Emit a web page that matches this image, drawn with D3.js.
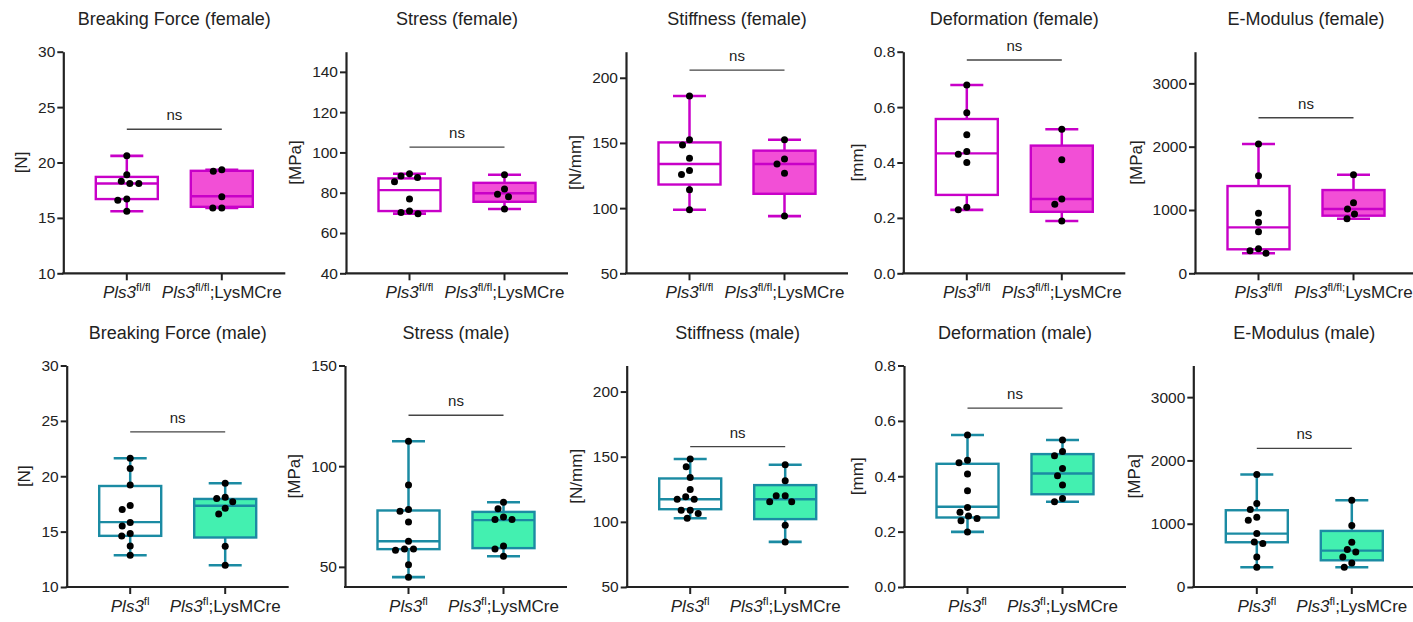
<!DOCTYPE html>
<html><head><meta charset="utf-8">
<script src="https://cdn.jsdelivr.net/npm/d3@7"></script>
<style>
html,body{margin:0;padding:0;background:#fff;}
svg{display:block;font-family:"Liberation Sans",Arial,Helvetica,sans-serif;}
</style></head>
<body><svg id="c" width="1413" height="622"></svg>
<script>
// ---------------- DATA ----------------
const titles = ["Breaking Force","Stress","Stiffness","Deformation","E-Modulus"];
const units = ["[N]","[MPa]","[N/mm]","[mm]","[MPa]"];
const sexes = ["female","male"];
const femaleLabels = [["Pls3","fl/fl",""],["Pls3","fl/fl",";LysMCre"]];
const femaleLabelsEmod = [["Pls3","fl/fl",""],["Pls3","fl/fl;","LysMCre"]];
const maleLabels = [["Pls3","fl",""],["Pls3","fl",";LysMCre"]];

const yDomainsFemale = [[10,30],[40,150],[50,220],[0,0.8],[0,3500]];
const yDomainsMale   = [[10,30],[40,150],[50,220],[0,0.8],[0,3500]];
const yTicksFemale = [[10,15,20,25,30],[40,60,80,100,120,140],[50,100,150,200],[0,0.2,0.4,0.6,0.8],[0,1000,2000,3000]];
const yTicksMale   = [[10,15,20,25,30],[50,100,150],[50,100,150,200],[0,0.2,0.4,0.6,0.8],[0,1000,2000,3000]];
const sigFemale = [23, 102.6, 205.8, 0.77, 2457];
const sigMale   = [24, 125.3, 157.7, 0.646, 2189];

// female
const bfFemaleCtrl = [20.6, 18.9, 18.3, 18.1, 18.1, 16.7, 16.6, 15.6];
const bfFemaleCre  = [19.35, 19.2, 16.9, 15.9, 15.9];
const stressFemaleCtrl = [89.4, 88.3, 87.6, 85.4, 76.9, 70.9, 70.2, 69.6];
const stressFemaleCre  = [88.9, 81.8, 79.3, 78.0, 71.9];
const stiffFemaleCtrl = [186, 152.4, 148.4, 138.2, 128.8, 125.7, 114.1, 98.8];
const stiffFemaleCre  = [152.4, 137.7, 133.9, 126.7, 93.9];
const defFemaleCtrl = [0.68, 0.58, 0.50, 0.44, 0.43, 0.40, 0.238, 0.229];
const defFemaleCre  = [0.52, 0.41, 0.268, 0.249, 0.189];
const emodFemaleCtrl = [2042, 1541, 947, 805, 657, 388, 357, 316];
const emodFemaleCre  = [1557, 1115, 1015, 936, 862];
// box summaries [min, q1, median, q3, max]
const bfFemaleCtrlBox = [15.6, 16.7, 18.1, 18.7, 20.6];
const bfFemaleCreBox  = [15.9, 16.0, 16.95, 19.25, 19.35];
const stressFemaleCtrlBox = [69.6, 70.9, 81.3, 87.1, 89.4];
const stressFemaleCreBox  = [71.9, 75.5, 79.7, 84.9, 88.9];
const stiffFemaleCtrlBox = [98.8, 118.1, 133.9, 150.4, 186];
const stiffFemaleCreBox  = [93.9, 111, 133.9, 144.1, 152.4];
const defFemaleCtrlBox = [0.229, 0.283, 0.433, 0.557, 0.68];
const defFemaleCreBox  = [0.189, 0.222, 0.268, 0.461, 0.52];
const emodFemaleCtrlBox = [316, 379, 726, 1378, 2042];
const emodFemaleCreBox  = [862, 910, 1015, 1315, 1557];

// male
const bfMaleCtrl = [21.63, 20.7, 19.2, 17.37, 17.0, 15.83, 15.5, 14.83, 14.6, 13.7, 12.87];
const bfMaleCre  = [19.37, 18.1, 17.98, 17.7, 17.1, 16.59, 13.69, 11.96];
const stressMaleCtrl = [112.4, 90.6, 78.5, 77.6, 72.3, 62.7, 58.9, 58.9, 58.3, 51.0, 44.9];
const stressMaleCre  = [82.1, 78.8, 74.8, 73.5, 73.5, 60.3, 58.9, 55.3];
const stiffMaleCtrl = [148.2, 142.3, 134.1, 124.9, 119.2, 117.4, 117.4, 109, 109, 106.4, 102.8];
const stiffMaleCre  = [143.8, 131.5, 120, 120, 115.4, 115.4, 97.4, 84.6];
const defMaleCtrl = [0.549, 0.458, 0.449, 0.408, 0.348, 0.287, 0.270, 0.256, 0.247, 0.239, 0.199];
const defMaleCre  = [0.531, 0.489, 0.474, 0.428, 0.402, 0.368, 0.32, 0.308];
const emodMaleCtrl = [1777, 1318, 1223, 1102, 1055, 844, 712, 686, 475, 311];
const emodMaleCre  = [1371, 970, 707, 591, 554, 475, 380, 311];
const bfMaleCtrlBox = [12.87, 14.62, 15.86, 19.12, 21.63];
const bfMaleCreBox  = [11.96, 14.47, 17.34, 17.95, 19.37];
const stressMaleCtrlBox = [44.9, 58.8, 62.7, 78.0, 112.4];
const stressMaleCreBox  = [55.3, 59.3, 73.2, 77.3, 82.1];
const stiffMaleCtrlBox = [102.8, 109.7, 117.4, 133.3, 148.2];
const stiffMaleCreBox  = [84.6, 102.1, 117.4, 128.2, 143.8];
const defMaleCtrlBox = [0.199, 0.251, 0.29, 0.445, 0.549];
const defMaleCreBox  = [0.308, 0.335, 0.41, 0.48, 0.531];
const emodMaleCtrlBox = [311, 707, 844, 1213, 1777];
const emodMaleCreBox  = [311, 422, 575, 886, 1371];

// ---------------- STYLE / LAYOUT ----------------
const colors = {
  female: {stroke:"#c800c8", fill:"#f24fd6"},
  male:   {stroke:"#1b8ba3", fill:"#43f0b0"}
};
const axisXTop = [63.3, 346, 626, 903.3, 1195];
const axisXBot = [66.7, 345, 626.7, 904, 1193.3];
const rowY = {female:{bottom:273.3, top:51.7, title:25}, male:{bottom:587, top:365.5, title:339.3}};
const plotW = 222, c1 = 63.5, c2 = 158.5, boxW = 62, dotR = 3.5;

const svg = d3.select("#c");

const femaleSets = [
  [bfFemaleCtrl,bfFemaleCre,bfFemaleCtrlBox,bfFemaleCreBox],
  [stressFemaleCtrl,stressFemaleCre,stressFemaleCtrlBox,stressFemaleCreBox],
  [stiffFemaleCtrl,stiffFemaleCre,stiffFemaleCtrlBox,stiffFemaleCreBox],
  [defFemaleCtrl,defFemaleCre,defFemaleCtrlBox,defFemaleCreBox],
  [emodFemaleCtrl,emodFemaleCre,emodFemaleCtrlBox,emodFemaleCreBox]
];
const maleSets = [
  [bfMaleCtrl,bfMaleCre,bfMaleCtrlBox,bfMaleCreBox],
  [stressMaleCtrl,stressMaleCre,stressMaleCtrlBox,stressMaleCreBox],
  [stiffMaleCtrl,stiffMaleCre,stiffMaleCtrlBox,stiffMaleCreBox],
  [defMaleCtrl,defMaleCre,defMaleCtrlBox,defMaleCreBox],
  [emodMaleCtrl,emodMaleCre,emodMaleCtrlBox,emodMaleCreBox]
];

function swarm(vals, y, cx){
  const placed = [];
  const sorted = vals.map(v=>({v, y:y(v)})).sort((a,b)=>a.y-b.y);
  const minD = 2*dotR + 1.6;
  sorted.forEach(p=>{
    let best = 0;
    const ok = off => placed.every(q=>Math.hypot(q.x-off, q.y-p.y) >= minD);
    if(!ok(0)){
      for(let s=0.5; s<60; s+=0.5){
        if(ok(-s)){best=-s;break;}
        if(ok(s)){best=s;break;}
      }
    }
    placed.push({x:best, y:p.y});
  });
  return placed.map(p=>({x:cx+p.x, y:p.y}));
}

function panel(sex, i){
  const isF = sex==="female";
  const ax = isF ? axisXTop[i] : axisXBot[i];
  const R = rowY[sex];
  const dom = isF ? yDomainsFemale[i] : yDomainsMale[i];
  const ticks = isF ? yTicksFemale[i] : yTicksMale[i];
  const sets = isF ? femaleSets[i] : maleSets[i];
  const labels = isF ? (i===4 ? femaleLabelsEmod : femaleLabels) : maleLabels;
  const sig = isF ? sigFemale[i] : sigMale[i];
  const col = colors[sex];

  const y = d3.scaleLinear().domain(dom).range([R.bottom, R.top]);
  const x = d3.scalePoint().domain([0,1]).range([ax+c1, ax+c2]);
  const g = svg.append("g");

  g.append("text").attr("x", ax+plotW/2).attr("y", R.title).attr("text-anchor","middle")
    .attr("font-size",18).attr("fill","#222").text(titles[i]+" ("+sex+")");

  const fmt = i===3 ? d3.format(".1f") : d3.format("d");
  const yAx = g.append("g").attr("transform",`translate(${ax},0)`)
    .call(d3.axisLeft(y).tickValues(ticks).tickFormat(fmt).tickSize(6).tickPadding(2).tickSizeOuter(0));
  yAx.select(".domain").attr("stroke","#222").attr("stroke-width",2.2);
  yAx.selectAll(".tick line").attr("stroke","#222").attr("stroke-width",2);
  yAx.selectAll(".tick text").attr("font-size",15.5).attr("fill","#222").attr("font-family","Liberation Sans, Arial, sans-serif");
  let minX = Infinity;
  yAx.selectAll(".tick text").each(function(){ const b=this.getBBox(); minX=Math.min(minX,b.x); });
  const lx = ax + minX - 11;
  g.append("text").attr("transform",`translate(${lx},${(R.top+R.bottom)/2}) rotate(-90)`)
    .attr("text-anchor","middle").attr("font-size",17).attr("fill","#222").text(units[i]);

  const xAx = g.append("g").attr("transform",`translate(0,${R.bottom})`);
  xAx.append("line").attr("x1",ax-1).attr("x2",ax+plotW).attr("stroke","#222").attr("stroke-width",2.2);
  [0,1].forEach(k=>{
    xAx.append("line").attr("x1",x(k)).attr("x2",x(k)).attr("y1",0).attr("y2",7).attr("stroke","#222").attr("stroke-width",2);
    const t = xAx.append("text").attr("x",x(k)).attr("y",25).attr("text-anchor","middle")
      .attr("font-size",17).attr("fill","#222");
    t.append("tspan").attr("font-style","italic").text(labels[k][0]);
    t.append("tspan").attr("font-size",11.5).attr("dy",-7).text(labels[k][1]);
    if(labels[k][2]) t.append("tspan").attr("dy",7).text(labels[k][2]);
  });

  [0,1].forEach(k=>{
    const b = sets[2+k];
    const cx = x(k);
    const bg = g.append("g");
    bg.append("line").attr("x1",cx).attr("x2",cx).attr("y1",y(b[0])).attr("y2",y(b[4]))
      .attr("stroke",col.stroke).attr("stroke-width",2.5);
    [b[0],b[4]].forEach(v=>{
      bg.append("line").attr("x1",cx-boxW/4-1).attr("x2",cx+boxW/4+1).attr("y1",y(v)).attr("y2",y(v))
        .attr("stroke",col.stroke).attr("stroke-width",2.6);
    });
    bg.append("rect").attr("x",cx-boxW/2).attr("width",boxW).attr("y",y(b[3])).attr("height",y(b[1])-y(b[3]))
      .attr("fill", k===0 ? "#fff" : col.fill).attr("stroke",col.stroke).attr("stroke-width",2.4);
    bg.append("line").attr("x1",cx-boxW/2).attr("x2",cx+boxW/2).attr("y1",y(b[2])).attr("y2",y(b[2]))
      .attr("stroke",col.stroke).attr("stroke-width",2.4);
    const pts = swarm(sets[k], y, cx);
    bg.selectAll("circle").data(pts).join("circle").attr("cx",d=>d.x).attr("cy",d=>d.y).attr("r",dotR).attr("fill","#000");
  });

  g.append("line").attr("x1",x(0)).attr("x2",x(1)).attr("y1",y(sig)).attr("y2",y(sig))
    .attr("stroke","#444").attr("stroke-width",1.3);
  g.append("text").attr("x",(x(0)+x(1))/2).attr("y",y(sig)-9).attr("text-anchor","middle")
    .attr("font-size",15).attr("fill","#222").text("ns");
}

sexes.forEach(s=>{ for(let i=0;i<5;i++) panel(s,i); });
</script></body></html>
